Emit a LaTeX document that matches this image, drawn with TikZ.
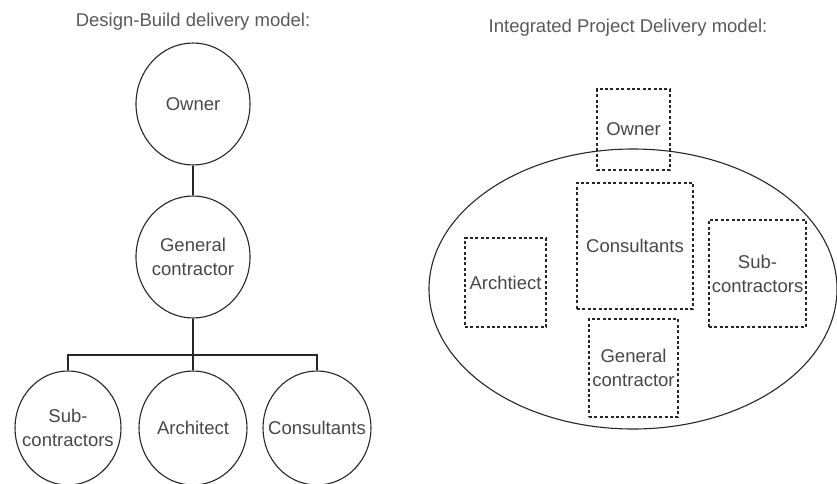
\documentclass[tikz,border=0pt]{standalone}
\usepackage{fontspec}
\setmainfont{Liberation Sans}
\usetikzlibrary{shapes.geometric}
\begin{document}
\begin{tikzpicture}[x=1pt,y=-1pt,
  lbl/.style={text=black!72,font=\fontsize{18.5}{24}\selectfont,align=center},
  circ/.style={ellipse,draw=black!85,line width=1.1pt,inner sep=0pt},
  dbox/.style={rectangle,draw=black!85,line width=1.1pt,dash pattern=on 3pt off 2.4pt,inner sep=0pt,lbl},
  ttl/.style={text=black!65,font=\fontsize{18.5}{22}\selectfont},
  conn/.style={draw=black!85,line width=1.1pt}]
\useasboundingbox (0,0) rectangle (837,484);
% left: Design-Build
\node[ttl] (t1) at (193,22) {Design-Build delivery model:};
\node[circ,minimum width=114pt,minimum height=122pt,label={[lbl]center:Owner}] (own) at (193,104) {};
\node[circ,minimum width=114pt,minimum height=122pt,label={[lbl]center:General\\contractor}] (gc) at (193,257) {};
\node[circ,minimum width=106pt,minimum height=114pt,label={[lbl]center:Sub-\\contractors}] (sub) at (68,428) {};
\node[circ,minimum width=108pt,minimum height=114pt,label={[lbl]center:Architect}] (arch) at (193,428) {};
\node[circ,minimum width=108pt,minimum height=114pt,label={[lbl]center:Consultants}] (cons) at (317,428) {};
\coordinate (bus) at (193,355);
\draw[conn] (own) -- (gc);
\draw[conn] (gc.south) -- (arch.north);
\draw[conn] (sub.north) |- (bus) -| (cons.north);
% right: IPD
\node[ttl] (t2) at (628,28) {Integrated Project Delivery model:};
\node[ellipse,draw=black!85,line width=1.1pt,minimum width=408pt,minimum height=280pt,inner sep=0pt] (big) at (633,289) {};
\node[dbox,minimum width=73pt,minimum height=81pt] (iown) at (633.5,129.5) {Owner};
\node[dbox,minimum width=116pt,minimum height=126pt] (icons) at (635,246) {Consultants};
\node[dbox,minimum width=81pt,minimum height=89pt] (iarch) at (505.5,282.5) {Archtiect};
\node[dbox,minimum width=97pt,minimum height=107pt] (isub) at (757.5,273.5) {Sub-\\contractors};
\node[dbox,minimum width=89pt,minimum height=98pt] (igc) at (633.5,368) {General\\contractor};
\end{tikzpicture}
\end{document}
